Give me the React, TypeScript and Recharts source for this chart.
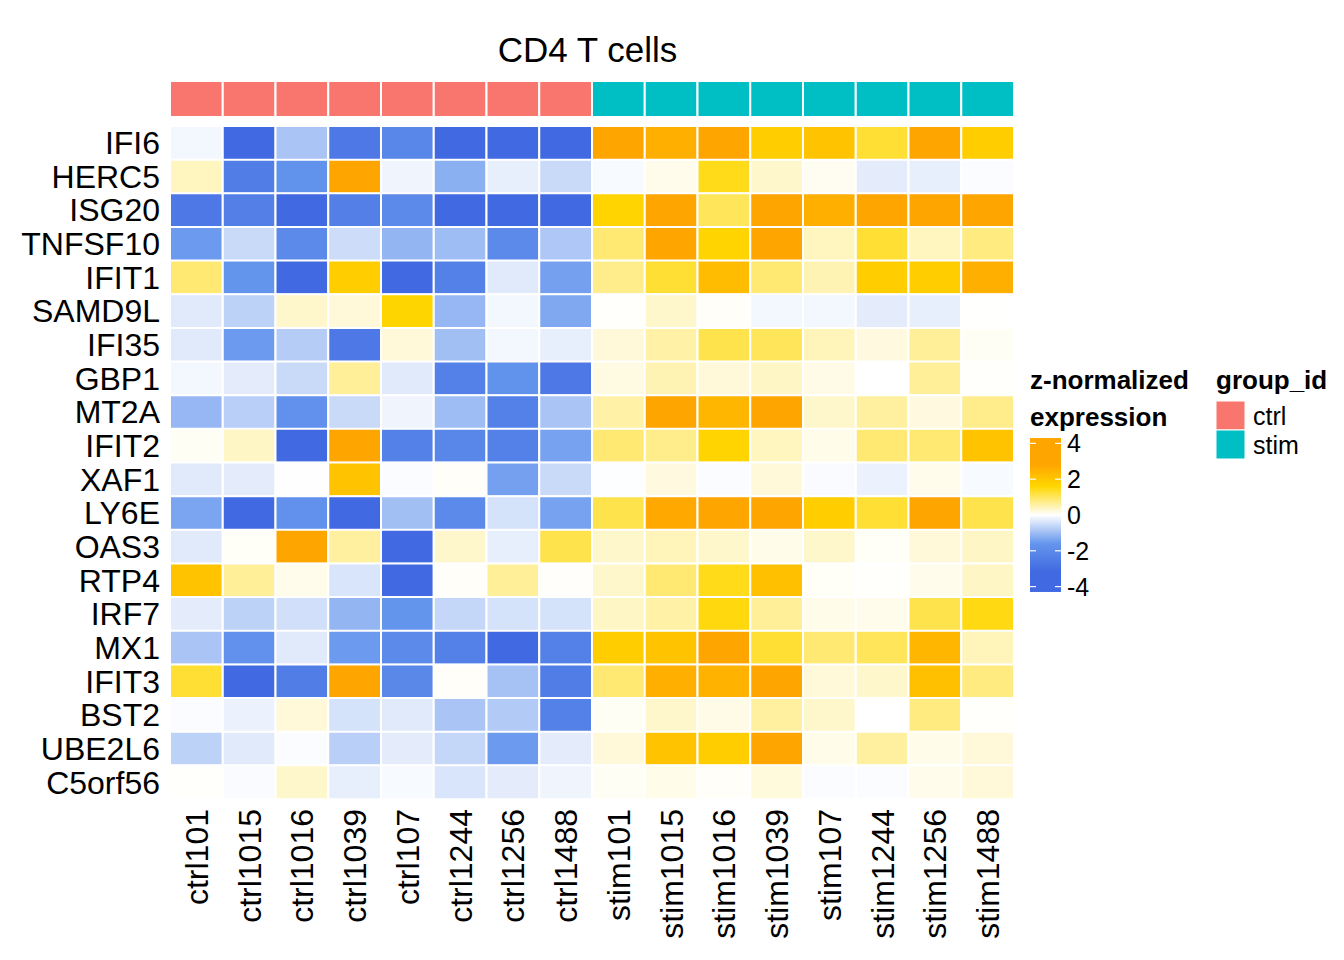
// Heatmap of z-normalized interferon gene expression in CD4 T cells (ctrl vs stim).
// Each row is a stack of unit bars; cell colour comes from the z value.

import * as React from 'react';
import { Bar, BarChart, Cell, XAxis, YAxis } from 'recharts';

const FONT = '"Liberation Sans", Arial, Helvetica, sans-serif';

const genes = [
  'IFI6', 'HERC5', 'ISG20', 'TNFSF10', 'IFIT1', 'SAMD9L', 'IFI35', 'GBP1', 'MT2A', 'IFIT2',
  'XAF1', 'LY6E', 'OAS3', 'RTP4', 'IRF7', 'MX1', 'IFIT3', 'BST2', 'UBE2L6', 'C5orf56',
];

const samples = [
  'ctrl101', 'ctrl1015', 'ctrl1016', 'ctrl1039', 'ctrl107', 'ctrl1244', 'ctrl1256', 'ctrl1488',
  'stim101', 'stim1015', 'stim1016', 'stim1039', 'stim107', 'stim1244', 'stim1256', 'stim1488',
];

const sampleGroups = [
  'ctrl', 'ctrl', 'ctrl', 'ctrl', 'ctrl', 'ctrl', 'ctrl', 'ctrl',
  'stim', 'stim', 'stim', 'stim', 'stim', 'stim', 'stim', 'stim',
];

// z-normalized expression, one array per gene, in sample order
const ifi6 = [-0.12, -3.4, -0.88, -2.64, -2.16, -3.5, -3.3, -3.4, 3.1, 2.56, 2.9, 1.84, 2.08, 1.28, 2.9, 1.84];
const herc5 = [0.4, -2.48, -1.68, 3.2, -0.16, -1.2, -0.24, -0.56, -0.08, 0.12, 1.44, 0.32, 0.08, -0.28, -0.24, -0.04];
const isg20 = [-2.64, -2.4, -3.3, -2.4, -2.0, -3.4, -3.3, -3.5, 1.68, 3.0, 1.04, 3.1, 2.56, 3.0, 2.9, 2.9];
const tnfsf10 = [-1.52, -0.56, -2.0, -0.52, -1.12, -1.0, -2.0, -0.84, 0.88, 3.0, 1.68, 3.1, 0.4, 1.28, 0.4, 0.8];
const ifit1 = [0.88, -1.6, -3.4, 1.84, -3.5, -2.32, -0.32, -1.44, 0.72, 1.28, 2.24, 0.88, 0.48, 1.84, 1.84, 2.56];
const samd9l = [-0.32, -0.68, 0.32, 0.24, 1.64, -1.08, -0.12, -1.32, 0.02, 0.32, 0.04, -0.12, -0.12, -0.28, -0.24, 0.01];
const ifi35 = [-0.32, -1.52, -0.76, -2.64, 0.24, -0.96, -0.12, -0.24, 0.24, 0.56, 1.12, 1.04, 0.44, 0.2, 0.64, 0.06];
const gbp1 = [-0.12, -0.28, -0.56, 0.64, -0.32, -2.32, -1.68, -2.64, 0.18, 0.48, 0.24, 0.36, 0.16, 0.0, 0.64, 0.02];
const mt2a = [-1.08, -0.72, -1.76, -0.56, -0.16, -1.0, -2.32, -0.88, 0.56, 3.0, 2.4, 3.1, 0.32, 0.6, 0.2, 0.72];
const ifit2 = [0.06, 0.36, -3.4, 3.0, -2.32, -2.16, -2.32, -1.4, 0.88, 0.72, 1.68, 0.4, 0.14, 0.88, 0.88, 2.08];
const xaf1 = [-0.32, -0.28, -0.01, 2.08, -0.04, 0.04, -1.44, -0.56, -0.02, 0.2, -0.04, 0.24, -0.06, -0.2, 0.12, -0.08];
const ly6e = [-1.36, -3.3, -1.76, -3.4, -0.96, -2.0, -0.44, -1.4, 1.12, 2.72, 3.0, 3.1, 1.84, 1.28, 3.0, 1.12];
const oas3 = [-0.32, 0.05, 3.0, 0.6, -3.4, 0.32, -0.24, 1.12, 0.32, 0.44, 0.32, 0.14, 0.32, 0.05, 0.24, 0.36];
const rtp4 = [2.08, 0.64, 0.12, -0.4, -3.5, 0.04, 0.64, 0.03, 0.32, 0.88, 1.44, 2.16, 0.05, 0.02, 0.12, 0.36];
const irf7 = [-0.28, -0.68, -0.48, -1.12, -1.6, -0.6, -0.44, -0.44, 0.36, 0.56, 1.52, 0.64, 0.14, 0.12, 1.12, 1.48];
const mx1 = [-0.88, -1.76, -0.32, -1.52, -2.0, -2.32, -3.4, -2.32, 1.84, 2.08, 3.0, 1.28, 0.88, 1.04, 2.4, 0.44];
const ifit3 = [1.28, -3.4, -2.48, 3.0, -2.08, 0.04, -0.92, -2.48, 0.88, 2.56, 2.48, 2.9, 0.24, 0.32, 2.16, 0.8];
const bst2 = [-0.04, -0.2, 0.24, -0.44, -0.32, -0.88, -0.8, -2.32, 0.06, 0.32, 0.16, 0.6, 0.32, 0.0, 0.8, 0.02];
const ube2l6 = [-0.68, -0.32, -0.04, -0.72, -0.28, -0.6, -1.52, -0.28, 0.24, 2.08, 1.84, 3.0, 0.14, 0.6, 0.14, 0.24];
const c5orf56 = [0.02, -0.06, 0.32, -0.24, -0.08, -0.4, -0.28, -0.16, 0.06, 0.14, 0.04, 0.22, -0.04, -0.04, 0.12, 0.24];

const zValues = [
  ifi6, herc5, isg20, tnfsf10, ifit1, samd9l, ifi35, gbp1, mt2a, ifit2,
  xaf1, ly6e, oas3, rtp4, irf7, mx1, ifit3, bst2, ube2l6, c5orf56,
];

const legendTicks = [4, 2, 0, -2, -4];
const legendLimits = [-4.3, 4.3];

// colour scale (value, hex)
const colorStops: [number, string][] = [
  [-3.2, '#4169E1'],
  [-1.6, '#6495ED'],
  [0, '#FFFFFF'],
  [1.6, '#FFD700'],
  [2.8, '#FFA500'],
];
const groupColors: Record<string, string> = { ctrl: '#F8766D', stim: '#00BFC4' };

const hexToRgb = (hex: string) => [1, 3, 5].map((i) => parseInt(hex.slice(i, i + 2), 16));

function colorFor(v: number) {
  if (v <= colorStops[0][0]) return colorStops[0][1];
  const last = colorStops[colorStops.length - 1];
  if (v >= last[0]) return last[1];
  for (let i = 0; i < colorStops.length - 1; i++) {
    const [v0, c0] = colorStops[i];
    const [v1, c1] = colorStops[i + 1];
    if (v >= v0 && v <= v1) {
      const t = (v - v0) / (v1 - v0);
      const a = hexToRgb(c0);
      const b = hexToRgb(c1);
      const rgb = a.map((x, k) => Math.round(x + (b[k] - x) * t));
      return `rgb(${rgb.join(',')})`;
    }
  }
  return '#FFFFFF';
}

const W = 1344;
const H = 960;
const plotLeft = 170;
const plotRight = 330; // space to the right of the heatmap
const AXIS_FONT = 32;

const heatRows = genes.map((gene) => {
  const row: Record<string, string | number> = { gene };
  samples.forEach((s) => (row[s] = 1));
  return row;
});

const annotRows = [
  (() => {
    const row: Record<string, string | number> = { name: 'group_id' };
    samples.forEach((s) => (row[s] = 1));
    return row;
  })(),
];

const SampleTick = (props: any) => {
  const { x, y, payload } = props;
  const label = samples[Math.floor(payload.value)];
  const ty = y + 10;
  return (
    <text
      x={x}
      y={ty}
      transform={`rotate(-90 ${x} ${ty})`}
      textAnchor='end'
      dy='0.36em'
      fontSize={AXIS_FONT}
      fontFamily={FONT}
      fill='#000'
    >
      {label}
    </text>
  );
};

function Legend() {
  const barX = 1030;
  const barW = 31;
  const yZero = 515;
  const perUnit = 17.9;
  const yOf = (v: number) => yZero - v * perUnit;
  const top = yOf(legendLimits[1]);
  const bottom = yOf(legendLimits[0]);
  const span = legendLimits[1] - legendLimits[0];
  return (
    <svg
      width={W}
      height={H}
      style={{ position: 'absolute', left: 0, top: 0, pointerEvents: 'none' }}
      fontFamily={FONT}
    >
      <defs>
        <linearGradient id='zgrad' x1='0' y1='1' x2='0' y2='0'>
          <stop offset='0' stopColor={colorStops[0][1]} />
          {colorStops.map(([v, c]) => (
            <stop key={v} offset={(v - legendLimits[0]) / span} stopColor={c} />
          ))}
          <stop offset='1' stopColor={colorStops[colorStops.length - 1][1]} />
        </linearGradient>
      </defs>
      <text x={587.5} y={62} textAnchor='middle' fontSize={35} fill='#000'>
        CD4 T cells
      </text>

      <text x={barX} y={389} fontSize={26} fontWeight='bold' fill='#000'>
        z-normalized
      </text>
      <text x={barX} y={426} fontSize={26} fontWeight='bold' fill='#000'>
        expression
      </text>
      <rect x={barX} y={top} width={barW} height={bottom - top} fill='url(#zgrad)' />
      {legendTicks.map((t) => (
        <g key={t}>
          <line x1={barX} x2={barX + 6} y1={yOf(t)} y2={yOf(t)} stroke='#fff' strokeWidth={1.2} />
          <line x1={barX + barW - 6} x2={barX + barW} y1={yOf(t)} y2={yOf(t)} stroke='#fff' strokeWidth={1.2} />
          <text x={barX + barW + 6} y={yOf(t)} dy='0.36em' fontSize={25} fill='#000'>
            {t}
          </text>
        </g>
      ))}

      <text x={1216} y={389} fontSize={26} fontWeight='bold' fill='#000'>
        group_id
      </text>
      {['ctrl', 'stim'].map((g, i) => (
        <g key={g}>
          <rect x={1216} y={401 + i * 29} width={29} height={29} fill={groupColors[g]} stroke='#fff' strokeWidth={1} />
          <text x={1253} y={415.5 + i * 29} dy='0.36em' fontSize={25} fill='#000'>
            {g}
          </text>
        </g>
      ))}
    </svg>
  );
}

export default function App() {
  return (
    <div style={{ position: 'absolute', left: 0, top: 0, width: W, height: H, background: '#fff', fontFamily: FONT }}>
      <div style={{ position: 'absolute', left: 0, top: 0 }}>
        <BarChart
          width={W}
          height={120}
          data={annotRows}
          layout='vertical'
          barCategoryGap={0}
          margin={{ top: 81, right: plotRight, bottom: 3, left: plotLeft }}
        >
          <XAxis type='number' domain={[0, samples.length]} hide height={0} />
          <YAxis type='category' dataKey='name' hide width={0} />
          {samples.map((s, j) => (
            <Bar key={s} dataKey={s} stackId='g' isAnimationActive={false}>
              <Cell fill={groupColors[sampleGroups[j]]} stroke='#fff' strokeWidth={2} />
            </Bar>
          ))}
        </BarChart>
      </div>
      <div style={{ position: 'absolute', left: 0, top: 0 }}>
        <BarChart
          width={W}
          height={H}
          data={heatRows}
          layout='vertical'
          barCategoryGap={0}
          margin={{ top: 126, right: plotRight, bottom: 11, left: 0 }}
        >
          <XAxis
            type='number'
            domain={[0, samples.length]}
            ticks={samples.map((_, i) => i + 0.5)}
            interval={0}
            height={150}
            axisLine={false}
            tickLine={false}
            tickSize={0}
            tickMargin={0}
            tick={<SampleTick />}
          />
          <YAxis
            type='category'
            dataKey='gene'
            width={plotLeft}
            axisLine={false}
            tickLine={false}
            tickSize={0}
            tickMargin={10}
            interval={0}
            tick={{ fontSize: AXIS_FONT, fill: '#000', fontFamily: FONT }}
          />
          {samples.map((s, j) => (
            <Bar key={s} dataKey={s} stackId='h' isAnimationActive={false}>
              {genes.map((g, i) => (
                <Cell key={g} fill={colorFor(zValues[i][j])} stroke='#fff' strokeWidth={2} />
              ))}
            </Bar>
          ))}
        </BarChart>
      </div>
      <Legend />
    </div>
  );
}
